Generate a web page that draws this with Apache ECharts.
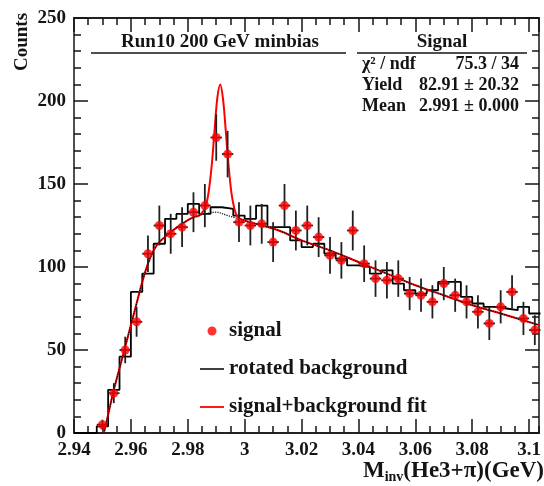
<!DOCTYPE html>
<html>
<head>
<meta charset="utf-8">
<script src="https://cdn.jsdelivr.net/npm/echarts@6/dist/echarts.min.js"></script>
<style>
  html, body { margin: 0; padding: 0; background: #fff; }
  #container { width: 544px; height: 486px; }
</style>
</head>
<body>
<div id="container"></div>
<script>
// bin centres (GeV), bin width 0.004
var binCenters = [
  2.942, 2.946, 2.950, 2.954, 2.958, 2.962, 2.966, 2.970, 2.974, 2.978,
  2.982, 2.986, 2.990, 2.994, 2.998, 3.002, 3.006, 3.010, 3.014, 3.018,
  3.022, 3.026, 3.030, 3.034, 3.038, 3.042, 3.046, 3.050, 3.054, 3.058,
  3.062, 3.066, 3.070, 3.074, 3.078, 3.082, 3.086, 3.090, 3.094, 3.098, 3.102
];
var binHalf = 0.002;

// signal counts (red points) and their errors
var signal = [
  null, null, 5, 24, 50, 67, 108, 125, 120, 124,
  133, 137, 178, 168, 127, 125, 126, 115, 137, 122,
  125, 118, 107, 104, 122, 102, 93, 92, 93, 84,
  83, 79, 90, 83, 79, 73, 66, 76, 85, 69, 62
];
var signalErr = [
  0, 0, 3, 6, 8, 9, 11, 12, 12, 12,
  12, 13, 14, 14, 12, 12, 12, 12, 13, 12,
  12, 12, 11, 11, 12, 11, 11, 11, 11, 10,
  10, 10, 10, 10, 10, 10, 10, 10, 10, 10, 9
];

// rotated background histogram
var rotBkg = [
  0, 0, 4, 26, 46, 85, 96, 114, 129, 132,
  138, 132, 136, 135, 131, 129, 137, 124, 124, 116,
  112, 114, 108, 105, 101, 100, 96, 98, 90, 86,
  84, 86, 91, 91, 82, 78, 76, 75, 74, 76, 72
];

// signal+background fit curve (red)
var fitX = [2.9505, 2.952, 2.954, 2.956, 2.958, 2.960, 2.962, 2.964, 2.966, 2.968,
  2.970, 2.974, 2.978, 2.982, 2.984, 2.9854, 2.9864, 2.9874, 2.9884, 2.9894,
  2.9904, 2.9914, 2.9924, 2.9934, 2.9944, 2.9954, 2.9964, 2.9974, 2.999, 3.004,
  3.012, 3.020, 3.030, 3.040, 3.050, 3.060, 3.070, 3.080, 3.090, 3.1035];
var fitY = [0, 11, 26, 39, 52, 65, 78, 91, 102, 110,
  115, 121, 126, 130, 131, 133.5, 137, 146, 161, 182,
  202, 210, 201, 181, 160, 144, 135, 130.5, 128.5, 126,
  122, 116, 110, 103, 96, 89, 83, 77, 72, 65];

// background part of the fit (black dotted)
var bgX = [2.9505, 2.952, 2.954, 2.956, 2.958, 2.960, 2.962, 2.964, 2.966, 2.968,
  2.970, 2.974, 2.978, 2.982, 2.986, 2.990, 2.994, 2.998, 3.004, 3.012,
  3.020, 3.030, 3.040, 3.050, 3.060, 3.070, 3.080, 3.090, 3.1035];
var bgY = [0, 11, 26, 39, 52, 65, 78, 91, 102, 110,
  115, 121, 126, 130, 132, 133, 131, 129, 126, 122,
  116, 110, 103, 96, 89, 83, 77, 72, 65];

var xMin = 2.94, xMax = 3.1035;
var yMin = 0, yMax = 250;

var FONT = "'Liberation Serif', 'DejaVu Serif', serif";
var INK = '#141414';

// build series data
var histData = [];
for (var i = 0; i < binCenters.length; i++) {
  histData.push([binCenters[i] - binHalf, rotBkg[i]]);
}
histData.push([binCenters[binCenters.length - 1] + binHalf, rotBkg[rotBkg.length - 1]]);

var pointData = [], errData = [];
for (var i = 0; i < binCenters.length; i++) {
  if (signal[i] == null) continue;
  pointData.push([binCenters[i], signal[i]]);
  errData.push([binCenters[i], signal[i], signalErr[i]]);
}
var fitData = fitX.map(function (x, i) { return [x, fitY[i]]; });
var bgData = bgX.map(function (x, i) { return [x, bgY[i]]; });

function xLabel(v) {
  var k = v / 0.02;
  if (Math.abs(k - Math.round(k)) > 1e-6) return '';
  return String(+v.toFixed(2));
}

var labelStyle = { fontFamily: FONT, fontWeight: 'bold', fontSize: 19, color: INK };
var lineStyle = { color: INK, width: 1.5 };

function xAx(pos, interval, tickLen, showLabel) {
  return {
    type: 'value', position: pos, min: xMin, max: xMax, interval: interval,
    axisLine: { show: true, onZero: false, lineStyle: lineStyle },
    axisTick: { show: true, inside: true, length: tickLen, lineStyle: lineStyle },
    axisLabel: showLabel ? Object.assign({ margin: 8, formatter: xLabel, showMaxLabel: false }, labelStyle) : { show: false },
    splitLine: { show: false }
  };
}
function yAx(pos, showLabel) {
  return {
    type: 'value', position: pos, min: yMin, max: yMax, interval: 50,
    axisLine: { show: true, onZero: false, lineStyle: lineStyle },
    axisTick: { show: true, inside: true, length: 14, lineStyle: lineStyle },
    minorTick: { show: true, splitNumber: 5, length: 7, lineStyle: lineStyle },
    axisLabel: showLabel ? Object.assign({ margin: 8 }, labelStyle) : { show: false },
    splitLine: { show: false }
  };
}

var dom = document.getElementById('container');
var myChart = echarts.init(dom, null, { renderer: 'canvas' });

var option = {
  animation: false,
  backgroundColor: '#fff',
  grid: { left: 74, right: 0, top: 18, bottom: 53, containLabel: false },
  xAxis: [
    xAx('bottom', 0.02, 14, true),
    xAx('bottom', 0.005, 7, false),
    xAx('top', 0.02, 14, false),
    xAx('top', 0.005, 7, false)
  ],
  yAxis: [yAx('left', true), yAx('right', false)],
  legend: {
    orient: 'vertical', left: 200, top: 320, itemGap: 16, padding: 0,
    itemWidth: 24, itemHeight: 9,
    textStyle: { fontFamily: FONT, fontWeight: 'bold', fontSize: 21, color: INK, lineHeight: 22 },
    data: [
      { name: 'signal', icon: 'circle' },
      { name: 'rotated background', icon: 'path://M0,0L24,0L24,1.5L0,1.5Z' },
      { name: 'signal+background fit', icon: 'path://M0,0L24,0L24,1.8L0,1.8Z' }
    ]
  },
  graphic: [
    { type: 'text', style: { text: 'Run10 200 GeV minbias', x: 220, y: 42, align: 'center', verticalAlign: 'middle', font: 'bold 19px ' + FONT, fill: INK } },
    { type: 'line', shape: { x1: 91, y1: 53, x2: 346, y2: 53 }, style: { stroke: INK, lineWidth: 1.5 } },
    { type: 'text', style: { text: 'Signal', x: 442, y: 42, align: 'center', verticalAlign: 'middle', font: 'bold 19px ' + FONT, fill: INK } },
    { type: 'line', shape: { x1: 357, y1: 53, x2: 527, y2: 53 }, style: { stroke: INK, lineWidth: 1.5 } },
    { type: 'text', style: { text: 'χ² / ndf', x: 362, y: 64, align: 'left', verticalAlign: 'middle', font: 'bold 18px ' + FONT, fill: INK } },
    { type: 'text', style: { text: '75.3 / 34', x: 519, y: 64, align: 'right', verticalAlign: 'middle', font: 'bold 18px ' + FONT, fill: INK } },
    { type: 'text', style: { text: 'Yield', x: 362, y: 85, align: 'left', verticalAlign: 'middle', font: 'bold 18px ' + FONT, fill: INK } },
    { type: 'text', style: { text: '82.91 ± 20.32', x: 519, y: 85, align: 'right', verticalAlign: 'middle', font: 'bold 18px ' + FONT, fill: INK } },
    { type: 'text', style: { text: 'Mean', x: 362, y: 106, align: 'left', verticalAlign: 'middle', font: 'bold 18px ' + FONT, fill: INK } },
    { type: 'text', style: { text: '2.991 ± 0.000', x: 519, y: 106, align: 'right', verticalAlign: 'middle', font: 'bold 18px ' + FONT, fill: INK } },
    { type: 'text', rotation: Math.PI / 2, x: 22, y: 42, style: { text: 'Counts', x: 0, y: 0, align: 'center', verticalAlign: 'middle', font: 'bold 19px ' + FONT, fill: INK } },
    {
      type: 'text', style: {
        text: '{m|M}{s|inv}{m|(He3+π)(GeV)}', x: 544, y: 471, align: 'right', verticalAlign: 'middle',
        rich: {
          m: { fontFamily: FONT, fontWeight: 'bold', fontSize: 23, fill: INK, color: INK },
          s: { fontFamily: FONT, fontWeight: 'bold', fontSize: 14, fill: INK, color: INK, padding: [12, 0, 0, 0] }
        }
      }
    }
  ],
  series: [
    {
      name: 'rotated background', type: 'line', step: 'end', data: histData,
      symbol: 'none', color: '#000', lineStyle: { color: '#000', width: 1.8 }, z: 2
    },
    {
      name: 'signal+background fit', type: 'line', data: fitData, smooth: 0.35,
      symbol: 'none', color: '#ff0000', lineStyle: { color: '#ff0000', width: 2 }, z: 3
    },
    {
      name: 'background', type: 'line', data: bgData, smooth: 0.35,
      symbol: 'none', color: '#000', lineStyle: { color: '#000', width: 1.2, type: 'dotted' }, z: 4
    },
    {
      name: 'errors', type: 'custom', data: errData, z: 5,
      renderItem: function (params, api) {
        var x = api.value(0), y = api.value(1), e = api.value(2);
        var lo = api.coord([x, y - e]), hi = api.coord([x, y + e]);
        var l = api.coord([x - binHalf, y]), r = api.coord([x + binHalf, y]);
        var st = { stroke: '#202020', lineWidth: 1.8 };
        return {
          type: 'group', children: [
            { type: 'line', shape: { x1: lo[0], y1: lo[1], x2: hi[0], y2: hi[1] }, style: st },
            { type: 'line', shape: { x1: l[0], y1: l[1], x2: r[0], y2: r[1] }, style: st }
          ]
        };
      }
    },
    {
      name: 'signal', type: 'scatter', data: pointData, symbol: 'circle', symbolSize: 9,
      color: '#ff0000', itemStyle: { color: '#ff0000' }, z: 6
    }
  ]
};

if (option && typeof option === 'object') {
  myChart.setOption(option);
}
</script>
</body>
</html>
